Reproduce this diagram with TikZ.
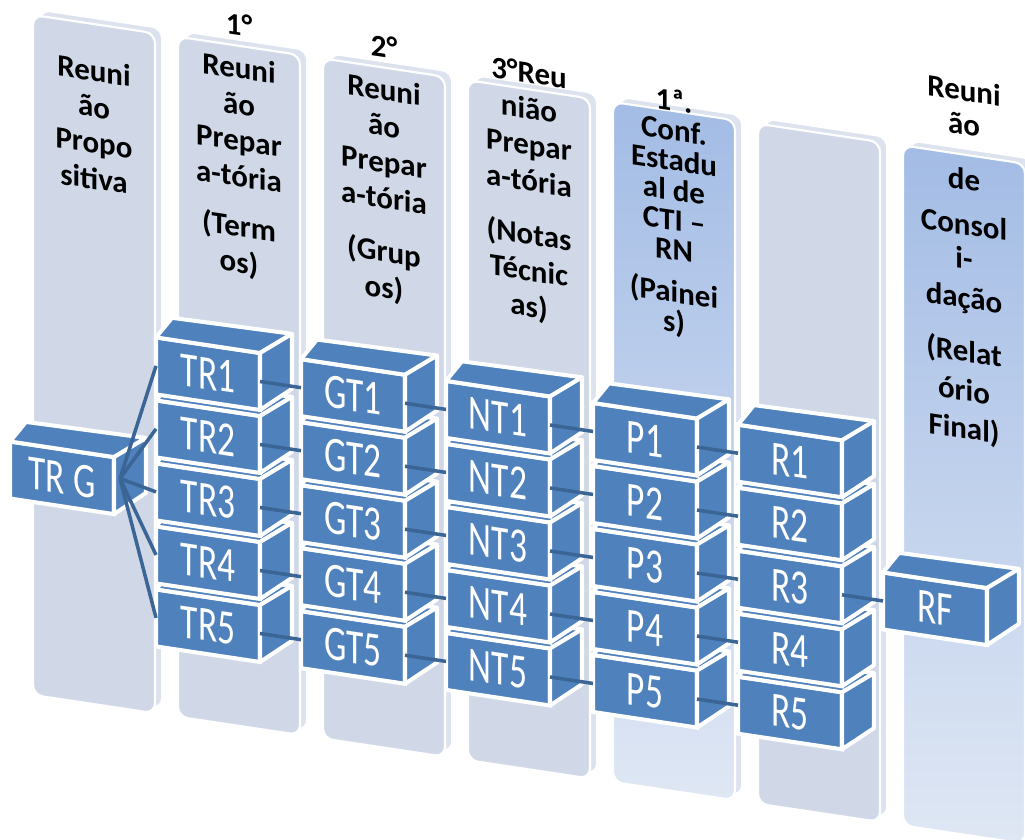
\documentclass[tikz,border=0pt]{standalone}
\usepackage{fontspec}
\setmainfont{Carlito}
\newfontfamily\boxfont[FakeStretch=0.72]{Carlito}
\usepackage{tikz}
\usetikzlibrary{calc}
\definecolor{BoxBlue}{HTML}{4F81BD}
\definecolor{PanelGray}{HTML}{D0D8E8}
\definecolor{PanelTop}{HTML}{A3BCE5}
\definecolor{PanelBottom}{HTML}{DFE7F4}
\definecolor{SlabEdge}{HTML}{DDE3EE}
\definecolor{LinkBlue}{HTML}{3A6595}

\tikzset{
  panel/.style={fill=PanelGray, draw=white, line width=1.2pt, rounded corners=0.2cm},
  panelblue/.style={panel, top color=PanelTop, bottom color=PanelBottom},
  slab/.style={fill=SlabEdge, draw=white, line width=1pt, rounded corners=0.2cm},
  head/.style={font=\bfseries\fontsize{17.6}{20.5}\selectfont, align=center, anchor=north, inner sep=0pt},
  cubefront/.style={rectangle, fill=BoxBlue, draw=white, line width=2.3pt,
    minimum width=2.08cm, minimum height=1.14cm, inner sep=0pt, outer sep=0pt,
    text=white, font=\boxfont\fontsize{28}{30}\selectfont},
  cubeside/.style={fill=BoxBlue, draw=white, line width=2.3pt, line join=round},
  link/.style={draw=LinkBlue, line width=2pt},
}

% one 3D box: front face node plus top and right faces
\newcommand{\cubebox}[3]{%
  \node[cubefront] (#1) at #2 {#3};
  \draw[cubeside] (#1.north west) -- ++(16,22) -- ++(120,2) -- (#1.north east) -- cycle;
  \draw[cubeside] (#1.north east) -- ++(32,24) -- ++(0,-55) -- (#1.south east) -- cycle;
}

\begin{document}
\begin{tikzpicture}[x=0.02cm, y=0.02cm]
  \useasboundingbox (0,0) rectangle (1025,-839);
  \clip (0,0) rectangle (1025,-839);
  \begin{scope}[yslant=-0.15, every node/.append style={transform shape}]

    % Panels (slab edge behind, face in front)
    \draw[slab] (40,-4) rectangle (162,-684);
    \draw[panel] (33,-10) rectangle (155,-690);
    \draw[slab] (185,-4) rectangle (307,-684);
    \draw[panel] (178,-10) rectangle (300,-690);
    \draw[slab] (330,-4) rectangle (452,-684);
    \draw[panel] (323,-10) rectangle (445,-690);
    \draw[slab] (475,-4) rectangle (597,-684);
    \draw[panel] (468,-10) rectangle (590,-690);
    \draw[slab] (620,-4) rectangle (742,-684);
    \draw[panelblue] (613,-10) rectangle (735,-690);
    \draw[slab] (765,-4) rectangle (887,-684);
    \draw[panel] (758,-10) rectangle (880,-690);
    \draw[slab] (910,-4) rectangle (1032,-684);
    \draw[panelblue] (903,-10) rectangle (1025,-690);

    % Panel titles
    \node[head] (h1) at (94,-45) {Reuni\\ão\\Propo\\sitiva};
    \node[head] (h2) at (239,22) {1°\\[4pt]Reuni\\ão\\Prepar\\a-tória\\[8pt](Term\\os)};
    \node[head] (h3) at (384,22) {2°\\[4pt]Reuni\\ão\\Prepar\\a-tória\\[10pt](Grup\\os)};
    \node[head] (h4) at (529,18) {3°Reu\\nião\\Prepar\\a-tória\\[10pt](Notas\\Técnic\\as)};
    \node[head, font=\bfseries\fontsize{17.6}{17}\selectfont] (h5) at (674,12)
      {1ª.\\Conf.\\Estadu\\al de\\CTI –\\RN\\[7pt](Painei\\s)};
    \node[head, font=\bfseries\fontsize{17.6}{19.4}\selectfont] (h7) at (964,66)
      {Reuni\\ão\\[12pt]de\\[6pt]Consol\\i-\\[3pt]dação\\[11pt](Relat\\[3pt]ório\\[2pt]Final)};

    % Starting box
    \cubebox{trg}{(62,-468.5)}{TR G}

    % Column TR (stacked from the bottom up)
    \cubebox{tr5}{(208,-594.5)}{TR5}
    \cubebox{tr4}{(208,-531.5)}{TR4}
    \cubebox{tr3}{(208,-468.5)}{TR3}
    \cubebox{tr2}{(208,-405.5)}{TR2}
    \cubebox{tr1}{(208,-342.5)}{TR1}

    % Fan out of TR G
    \draw[link] ([shift={(6,8)}]trg.east) -- (tr1.west);
    \draw[link] ([shift={(6,8)}]trg.east) -- (tr2.west);
    \draw[link] ([shift={(6,8)}]trg.east) -- (tr3.west);
    \draw[link] ([shift={(6,8)}]trg.east) -- (tr4.west);
    \draw[link] ([shift={(6,8)}]trg.east) -- (tr5.west);

    % Column GT
    \cubebox{gt5}{(353,-594.5)}{GT5}
    \cubebox{gt4}{(353,-531.5)}{GT4}
    \cubebox{gt3}{(353,-468.5)}{GT3}
    \cubebox{gt2}{(353,-405.5)}{GT2}
    \cubebox{gt1}{(353,-342.5)}{GT1}

    \draw[link] (tr1.east) -- (gt1.west);
    \draw[link] (tr2.east) -- (gt2.west);
    \draw[link] (tr3.east) -- (gt3.west);
    \draw[link] (tr4.east) -- (gt4.west);
    \draw[link] (tr5.east) -- (gt5.west);

    % Column NT
    \cubebox{nt5}{(498,-594.5)}{NT5}
    \cubebox{nt4}{(498,-531.5)}{NT4}
    \cubebox{nt3}{(498,-468.5)}{NT3}
    \cubebox{nt2}{(498,-405.5)}{NT2}
    \cubebox{nt1}{(498,-342.5)}{NT1}

    \draw[link] (gt1.east) -- (nt1.west);
    \draw[link] (gt2.east) -- (nt2.west);
    \draw[link] (gt3.east) -- (nt3.west);
    \draw[link] (gt4.east) -- (nt4.west);
    \draw[link] (gt5.east) -- (nt5.west);

    % Column P
    \cubebox{p5}{(645,-594.5)}{P5}
    \cubebox{p4}{(645,-531.5)}{P4}
    \cubebox{p3}{(645,-468.5)}{P3}
    \cubebox{p2}{(645,-405.5)}{P2}
    \cubebox{p1}{(645,-342.5)}{P1}

    \draw[link] (nt1.east) -- (p1.west);
    \draw[link] (nt2.east) -- (p2.west);
    \draw[link] (nt3.east) -- (p3.west);
    \draw[link] (nt4.east) -- (p4.west);
    \draw[link] (nt5.east) -- (p5.west);

    % Column R
    \cubebox{r5}{(790,-594.5)}{R5}
    \cubebox{r4}{(790,-531.5)}{R4}
    \cubebox{r3}{(790,-468.5)}{R3}
    \cubebox{r2}{(790,-405.5)}{R2}
    \cubebox{r1}{(790,-342.5)}{R1}

    \draw[link] (p1.east) -- (r1.west);
    \draw[link] (p2.east) -- (r2.west);
    \draw[link] (p3.east) -- (r3.west);
    \draw[link] (p4.east) -- (r4.west);
    \draw[link] (p5.east) -- (r5.west);

    % Final box
    \cubebox{rf}{(935,-468.5)}{RF}
    \draw[link] (r3.east) -- (rf.west);
  \end{scope}
\end{tikzpicture}
\end{document}
